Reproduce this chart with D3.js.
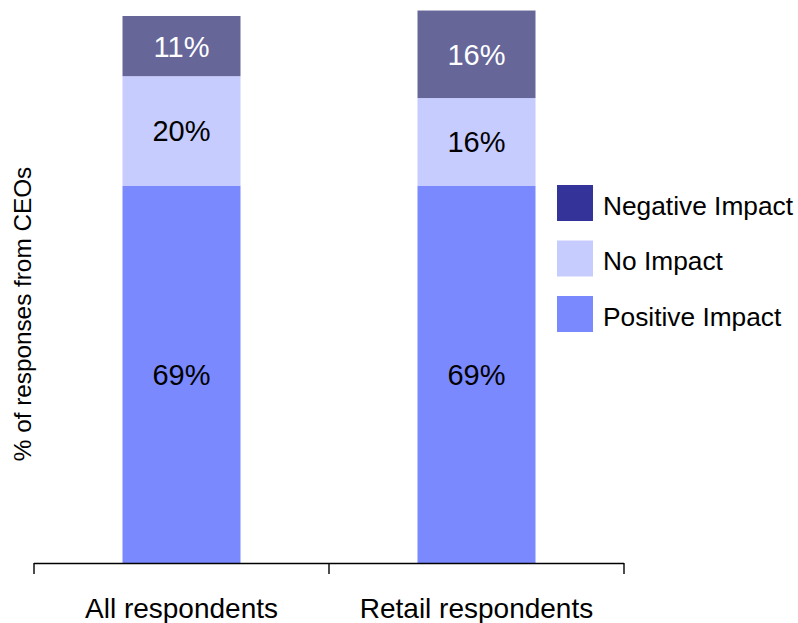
<!DOCTYPE html>
<html><head><meta charset="utf-8">
<script src="https://cdn.jsdelivr.net/npm/d3@7"></script>
<style>body{margin:0;background:#fff}svg{display:block}text{font-family:"Liberation Sans",Arial,sans-serif}</style>
</head><body>
<svg id="c" width="798" height="623"></svg>
<script>
const categories = ["All respondents", "Retail respondents"];
const series = ["Positive Impact", "No Impact", "Negative Impact"];
const positive = [69, 69];
const noImpact = [20, 16];
const negative = [11, 16];
const legendOrder = ["Negative Impact", "No Impact", "Positive Impact"];
const barColors = {"Positive Impact": "#7b89ff", "No Impact": "#c7ccff", "Negative Impact": "#666699"};
const legendColors = {"Positive Impact": "#7b89ff", "No Impact": "#c7ccff", "Negative Impact": "#333399"};
const labelColors = {"Positive Impact": "#000", "No Impact": "#000", "Negative Impact": "#fff"};

const rows = categories.map((c, i) => ({cat: c, "Positive Impact": positive[i], "No Impact": noImpact[i], "Negative Impact": negative[i]}));
const stacked = d3.stack().keys(series)(rows);

const svg = d3.select("#c");
const x = d3.scaleBand().domain(categories).range([34, 624]).paddingInner(0).paddingOuter(0);
const barW = x.bandwidth() * 0.4;
const y = d3.scaleLinear().domain([0, 100]).range([563, 16]);

const g = svg.append("g");
stacked.forEach(layer => {
  const key = layer.key;
  layer.forEach(d => {
    const cx = x(d.data.cat) + x.bandwidth() / 2;
    g.append("rect")
      .attr("x", cx - barW / 2).attr("width", barW)
      .attr("y", y(d[1])).attr("height", y(d[0]) - y(d[1]))
      .attr("fill", barColors[key]);
    g.append("text")
      .attr("x", cx).attr("y", (y(d[0]) + y(d[1])) / 2)
      .attr("dy", "0.36em").attr("text-anchor", "middle")
      .attr("font-size", 29).attr("fill", labelColors[key])
      .text((d[1] - d[0]) + "%");
  });
});

// x axis with ticks at band boundaries
const ax = svg.append("g");
ax.append("line").attr("x1", x.range()[0]).attr("x2", x.range()[1])
  .attr("y1", 563.5).attr("y2", 563.5).attr("stroke", "#000").attr("stroke-width", 1.4);
const boundaries = categories.map(c => x(c)).concat([x.range()[1]]);
boundaries.forEach(b => {
  ax.append("line").attr("x1", b).attr("x2", b).attr("y1", 563).attr("y2", 574)
    .attr("stroke", "#000").attr("stroke-width", 1.4);
});
categories.forEach(c => {
  ax.append("text").attr("x", x(c) + x.bandwidth() / 2).attr("y", 618)
    .attr("text-anchor", "middle").attr("font-size", 28).attr("fill", "#000").text(c);
});

// y title
svg.append("text").attr("transform", "translate(31,314) rotate(-90)")
  .attr("text-anchor", "middle").attr("font-size", 24.3).attr("fill", "#000")
  .text("% of responses from CEOs");

// legend
const lg = svg.append("g");
legendOrder.forEach((k, i) => {
  const yy = 185 + i * 55.5;
  lg.append("rect").attr("x", 557).attr("y", yy).attr("width", 36).attr("height", 36)
    .attr("fill", legendColors[k]);
  lg.append("text").attr("x", 603).attr("y", yy + 29.5)
    .attr("font-size", 26.3).attr("fill", "#000").text(k);
});
</script>
</body></html>
